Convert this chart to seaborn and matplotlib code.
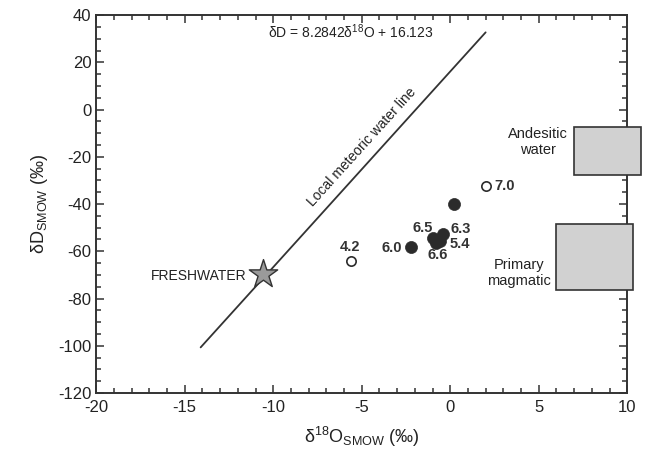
import matplotlib
matplotlib.use("Agg")
import matplotlib.pyplot as plt
import matplotlib.patches as mpatches
from matplotlib.ticker import MultipleLocator
import numpy as np
import pandas as pd
import seaborn as sns

# ---- data ----
filled_x = [0.2, -0.4, -1.0, -0.6, -0.8, -2.2]
filled_y = [-39.8, -52.5, -54.5, -55.5, -56.5, -58.2]
open_x = [2.0, -5.6]
open_y = [-32.3, -64.0]
fresh_x = [-10.6]
fresh_y = [-69.7]
lmwl_x = [-14.1, 2.0]
lmwl_y = [-100.7, 32.7]
label_text = ["7.0", "4.2", "6.0", "6.5", "6.3", "5.4", "6.6"]
label_x = [2.5, -5.65, -2.7, -1.55, 0.0, -0.06, -0.73]
label_y = [-32.3, -58.3, -58.5, -50.3, -50.7, -57.0, -61.7]
label_ha = ["left", "center", "right", "center", "left", "left", "center"]
box_names = ["Andesitic\nwater", "Primary\nmagmatic"]
box_x0 = [7.0, 6.0]
box_x1 = [10.8, 10.3]
box_y0 = [-27.5, -76.5]
box_y1 = [-7.5, -48.6]
box_text_x = [4.95, 3.9]
box_text_y = [-13.8, -69.3]
xticks = [-20, -15, -10, -5, 0, 5, 10]
yticks = [-120, -100, -80, -60, -40, -20, 0, 20, 40]

sns.set_theme(style="ticks")
plt.rcParams["font.family"] = ["Liberation Sans", "DejaVu Sans"]
plt.rcParams["mathtext.fontset"] = "custom"
plt.rcParams["mathtext.rm"] = "Liberation Sans"
plt.rcParams["mathtext.it"] = "Liberation Sans:italic"
plt.rcParams["mathtext.bf"] = "Liberation Sans:bold"

dark = "#333333"
fig = plt.figure(figsize=(6.5, 4.58), dpi=100)
ax = fig.add_axes([0.148, 0.142, 0.817, 0.825])

# meteoric line
sns.lineplot(x=lmwl_x, y=lmwl_y, ax=ax, color=dark, lw=1.3, legend=False)

# boxes
for x0, x1, y0, y1, name, tx, ty in zip(box_x0, box_x1, box_y0, box_y1, box_names, box_text_x, box_text_y):
    r = mpatches.Rectangle((x0, y0), x1 - x0, y1 - y0, facecolor="#d1d1d1",
                           edgecolor=dark, lw=1.2, clip_on=False, zorder=3)
    ax.add_patch(r)
    ax.text(tx, ty, name, ha="center", va="center", fontsize=10.5, color="#222222",
            linespacing=1.15)

# points
sns.scatterplot(x=filled_x, y=filled_y, ax=ax, s=75, color="#2b2b2b", edgecolor="#2b2b2b",
                linewidth=0.5, zorder=4, legend=False)
sns.scatterplot(x=open_x, y=open_y, ax=ax, s=45, facecolor="white", edgecolor="#2b2b2b",
                linewidth=1.2, zorder=4, legend=False)
sns.scatterplot(x=fresh_x, y=fresh_y, ax=ax, s=460, marker="*", color="#9a9a9a",
                edgecolor=dark, linewidth=1.0, zorder=5, legend=False)

for t, x, y, ha in zip(label_text, label_x, label_y, label_ha):
    ax.text(x, y, t, ha=ha, va="center", fontsize=10.5, fontweight="bold", color="#333333")

ax.text(-11.5, -70.5, "FRESHWATER", ha="right", va="center", fontsize=10, color="#222222")
ax.text(-5.6, 33.0, r"δD = 8.2842δ$^{18}$O + 16.123", ha="center", va="center",
        fontsize=10, color="#222222")

ax.set_xlim(-20, 10)
ax.set_ylim(-120, 40)

# rotated line label
fig.canvas.draw()
p0 = ax.transData.transform((lmwl_x[0], lmwl_y[0]))
p1 = ax.transData.transform((lmwl_x[1], lmwl_y[1]))
ang = np.degrees(np.arctan2(p1[1] - p0[1], p1[0] - p0[0]))
ax.text(-5.0, -16.0, "Local meteoric water line", rotation=ang, rotation_mode="anchor",
        ha="center", va="center", fontsize=10, color="#222222")

ax.set_xticks(xticks)
ax.set_yticks(yticks)
ax.set_xticklabels([str(v) for v in xticks])
ax.set_yticklabels([str(v) for v in yticks])
ax.xaxis.set_minor_locator(MultipleLocator(1))
ax.yaxis.set_minor_locator(MultipleLocator(5))
ax.tick_params(which="both", direction="in", top=True, right=True, colors=dark,
               labelcolor="#222222", labelsize=12, width=1.1)
ax.tick_params(which="major", length=6)
ax.tick_params(which="minor", length=3.5)
ax.tick_params(axis="x", pad=5)
for s in ax.spines.values():
    s.set_visible(True)
    s.set_color(dark)
    s.set_linewidth(1.4)

ax.set_xlabel(r"δ$^{18}$O$_{\mathrm{SMOW}}$ (‰)", fontsize=13, color="#222222", labelpad=7)
ax.set_ylabel(r"δD$_{\mathrm{SMOW}}$ (‰)", fontsize=13, color="#222222", labelpad=6)

fig.savefig("out.png", dpi=100)
